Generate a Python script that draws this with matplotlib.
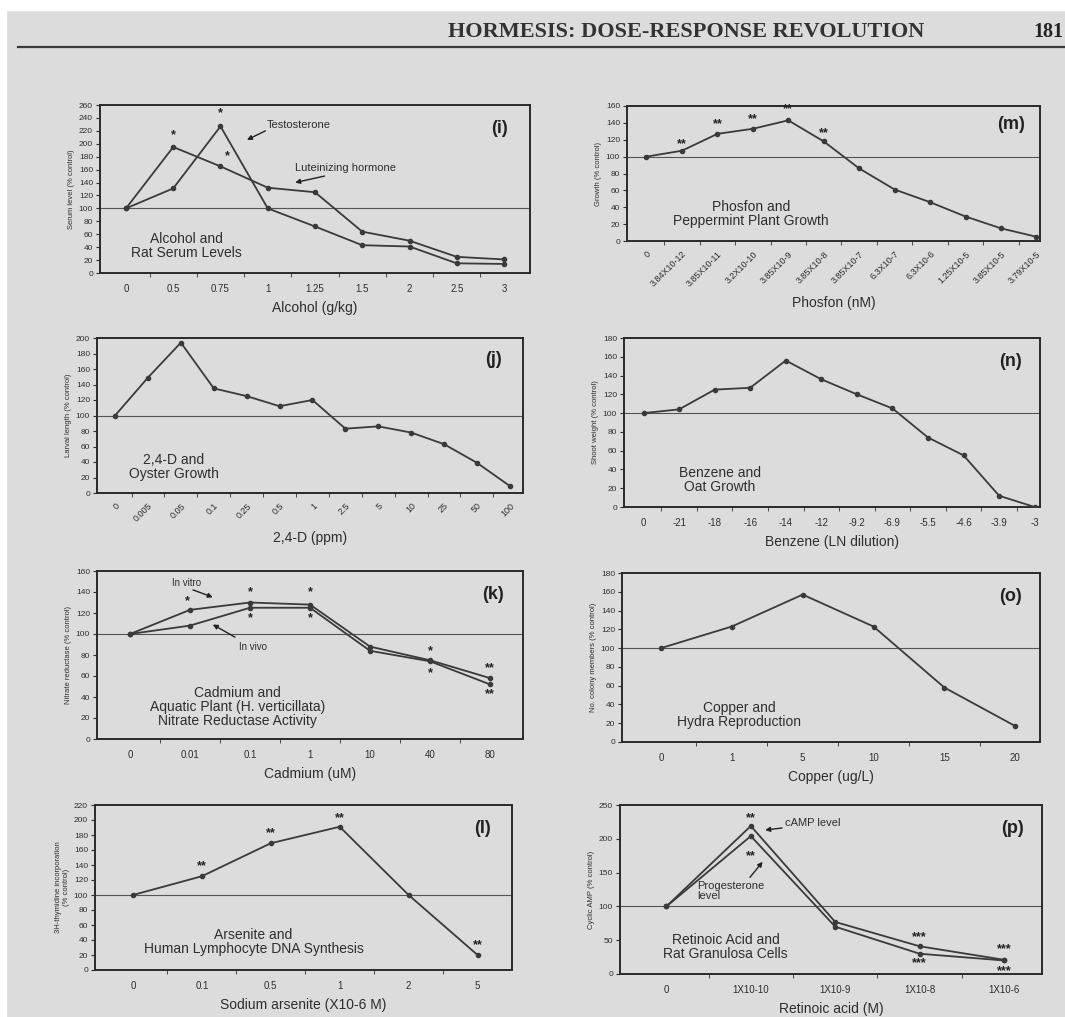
import matplotlib
matplotlib.use('Agg')
import matplotlib.pyplot as plt

plt.rcParams['font.family'] = ['Liberation Sans', 'DejaVu Sans']

W, H = 1065, 1017
PAPER = '#dcdcdc'
INK = '#2e2e2e'

# (i) Alcohol and rat serum levels
alcohol_doses = ['0', '0.5', '0.75', '1', '1.25', '1.5', '2', '2.5', '3']
testosterone = [100, 131, 227, 100, 72, 43, 41, 15, 14]
luteinizing = [100, 195, 165, 132, 125, 64, 50, 25, 21]

# (m) Phosfon and peppermint growth
phosfon_doses = ['0', '3.84X10-12', '3.85X10-11', '3.2X10-10', '3.85X10-9', '3.85X10-8',
                 '3.85X10-7', '6.3X10-7', '6.3X10-6', '1.25X10-5', '3.85X10-5', '3.79X10-5']
phosfon_growth = [100, 107, 127, 133, 143, 118, 86, 61, 46, 29, 15, 5]

# (j) 2,4-D and oyster growth
d24_doses = ['0', '0.005', '0.05', '0.1', '0.25', '0.5', '1', '2.5', '5', '10', '25', '50', '100']
oyster_length = [100, 149, 194, 135, 125, 112, 120, 83, 86, 78, 63, 39, 9]

# (n) Benzene and oat growth
benzene_doses = ['0', '-21', '-18', '-16', '-14', '-12', '-9.2', '-6.9', '-5.5', '-4.6', '-3.9', '-3']
oat_weight = [100, 104, 125, 127, 156, 136, 120, 105, 74, 55, 12, 0]

# (k) Cadmium and nitrate reductase
cadmium_doses = ['0', '0.01', '0.1', '1', '10', '40', '80']
in_vitro = [100, 123, 130, 128, 88, 75, 58]
in_vivo = [100, 108, 125, 125, 84, 74, 52]

# (o) Copper and hydra reproduction
copper_doses = ['0', '1', '5', '10', '15', '20']
hydra_members = [100, 123, 157, 123, 58, 17]

# (l) Arsenite and lymphocyte DNA synthesis
arsenite_doses = ['0', '0.1', '0.5', '1', '2', '5']
thymidine = [100, 125, 169, 191, 100, 20]

# (p) Retinoic acid and granulosa cells
retinoic_doses = ['0', '1X10-10', '1X10-9', '1X10-8', '1X10-6']
camp_level = [100, 219, 77, 41, 21]
progesterone_level = [100, 204, 70, 30, 20]

fig = plt.figure(figsize=(W / 100, H / 100), dpi=100)
fig.patch.set_facecolor(PAPER)


def px_axes(left, top, right, bottom):
    ax = fig.add_axes([left / W, 1 - bottom / H, (right - left) / W, (bottom - top) / H])
    ax.set_facecolor(PAPER)
    for s in ax.spines.values():
        s.set_color('#2a2a2a')
        s.set_linewidth(1.4)
    return ax


def setup(ax, cats, ymax, ystep, xlabel, ylabel, letter, note, note_xy,
          rot=0, pad_right=0.55):
    n = len(cats)
    ax.set_xlim(-0.55, n - 1 + pad_right)
    ax.set_ylim(0, ymax)
    ax.set_yticks(range(0, ymax + 1, ystep))
    ax.set_xticks(range(n))
    if rot:
        ax.set_xticklabels(cats, rotation=rot, ha='right', rotation_mode='anchor')
    else:
        ax.set_xticklabels(cats)
    ax.set_xticks([i + 0.5 for i in range(n - 1)], minor=True)
    ax.tick_params(axis='x', which='major', length=0, labelsize=7, colors=INK, pad=8)
    ax.tick_params(axis='x', which='minor', length=3, direction='out', color=INK)
    ax.tick_params(axis='y', length=3, labelsize=6, colors=INK, pad=2)
    ax.axhline(100, color='#555555', lw=0.8, zorder=1)
    ax.set_xlabel(xlabel, fontsize=10, color=INK, labelpad=5)
    ax.set_ylabel(ylabel, fontsize=5.5, color=INK, labelpad=3)
    ax.text(0.93, 0.86, letter, transform=ax.transAxes, fontsize=13, fontweight='bold',
            ha='center', va='center', color='#222222')
    ax.text(note_xy[0], note_xy[1], note, transform=ax.transAxes, fontsize=10,
            ha='center', va='center', color=INK, linespacing=1.0)


def series(ax, vals):
    ax.plot(range(len(vals)), vals, color='#3a3a3a', lw=1.3, marker='o', ms=3, zorder=3)


def stars(ax, pts, s):
    for x, y in pts:
        ax.text(x, y, s, ha='center', va='center', fontsize=9, fontweight='bold', color='#222222')


arrow = dict(arrowstyle='-|>', color='#222222', lw=1.0, mutation_scale=7,
             shrinkA=0, shrinkB=0)

# header
fig.patches.append(plt.Rectangle((0, 1 - 10 / H), 1, 10 / H, transform=fig.transFigure,
                                 color='white', zorder=0))
fig.patches.append(plt.Rectangle((0, 0), 6 / W, 1, transform=fig.transFigure,
                                 color='white', zorder=0))
fig.text(686 / W, 1 - 32 / H, 'HORMESIS: DOSE-RESPONSE REVOLUTION', ha='center', va='center',
         fontsize=16, family='Liberation Serif', fontweight='bold', color='#333333')
fig.text(1063 / W, 1 - 32 / H, '181', ha='right', va='center', fontsize=14.5,
         family='Liberation Serif', fontweight='bold', color='#222222')
fig.add_artist(plt.Line2D([18 / W, 1], [1 - 47 / H, 1 - 47 / H], color='#3a3a3a', lw=1.6))

# (i)
ax = px_axes(100, 105, 530, 273)
setup(ax, alcohol_doses, 260, 20, 'Alcohol (g/kg)', 'Serum level (% control)', '(i)',
      'Alcohol and\nRat Serum Levels', (0.2, 0.16))
series(ax, testosterone)
series(ax, luteinizing)
stars(ax, [(1, 213), (2, 247), (2.15, 181)], '*')
ax.text(2.98, 229, 'Testosterone', fontsize=8, color=INK, ha='left', va='center')
ax.annotate('', xy=(2.56, 206), xytext=(2.95, 220), arrowprops=arrow)
ax.text(3.58, 163, 'Luteinizing hormone', fontsize=8, color=INK, ha='left', va='center')
ax.annotate('', xy=(3.58, 140), xytext=(4.2, 150), arrowprops=arrow)

# (m)
ax = px_axes(627, 106, 1040, 241)
setup(ax, phosfon_doses, 160, 20, 'Phosfon (nM)', 'Growth (% control)', '(m)',
      'Phosfon and\nPeppermint Plant Growth', (0.3, 0.2), rot=45, pad_right=0.1)
ax.tick_params(axis='x', which='major', labelsize=6.5, pad=6)
series(ax, phosfon_growth)
stars(ax, [(1, 115), (2, 139), (3, 144), (4, 156), (5, 128)], '**')

# (j)
ax = px_axes(97, 338, 523, 493)
setup(ax, d24_doses, 200, 20, '2,4-D (ppm)', 'Larval length (% control)', '(j)',
      '2,4-D and\nOyster Growth', (0.18, 0.17), rot=45, pad_right=0.4)
ax.tick_params(axis='x', which='major', labelsize=6.5, pad=6)
series(ax, oyster_length)

# (n)
ax = px_axes(624, 338, 1040, 507)
setup(ax, benzene_doses, 180, 20, 'Benzene (LN dilution)', 'Shoot weight (% control)', '(n)',
      'Benzene and\nOat Growth', (0.23, 0.16), pad_right=0.15)
series(ax, oat_weight)

# (k)
ax = px_axes(97, 571, 523, 739)
setup(ax, cadmium_doses, 160, 20, 'Cadmium (uM)', 'Nitrate reductase (% control)', '(k)',
      'Cadmium and\nAquatic Plant (H. verticillata)\nNitrate Reductase Activity', (0.33, 0.19))
series(ax, in_vitro)
series(ax, in_vivo)
stars(ax, [(0.95, 131), (2, 140), (2, 115), (3, 140), (3, 115), (5, 84), (5, 63)], '*')
stars(ax, [(6, 67), (6, 43)], '**')
ax.text(0.95, 149, 'In vitro', fontsize=7, color=INK, ha='center', va='center')
ax.annotate('', xy=(1.38, 135), xytext=(1.05, 142), arrowprops=arrow)
ax.text(2.05, 88, 'In vivo', fontsize=7, color=INK, ha='center', va='center')
ax.annotate('', xy=(1.38, 109), xytext=(1.75, 97), arrowprops=arrow)

# (o)
ax = px_axes(622, 573, 1040, 742)
setup(ax, copper_doses, 180, 20, 'Copper (ug/L)', 'No. colony members (% control)', '(o)',
      'Copper and\nHydra Reproduction', (0.28, 0.16), pad_right=0.35)
series(ax, hydra_members)

# (l)
ax = px_axes(95, 805, 512, 970)
setup(ax, arsenite_doses, 220, 20, 'Sodium arsenite (X10-6 M)',
      '3H-thymidine incorporation\n(% control)', '(l)',
      'Arsenite and\nHuman Lymphocyte DNA Synthesis', (0.38, 0.17), pad_right=0.5)
series(ax, thymidine)
stars(ax, [(1, 139), (2, 182), (3, 203), (5, 33)], '**')

# (p)
ax = px_axes(620, 805, 1042, 974)
setup(ax, retinoic_doses, 250, 50, 'Retinoic acid (M)', 'Cyclic AMP (% control)', '(p)',
      'Retinoic Acid and\nRat Granulosa Cells', (0.25, 0.16), pad_right=0.45)
series(ax, camp_level)
series(ax, progesterone_level)
stars(ax, [(1, 230), (1, 174)], '**')
stars(ax, [(3, 55), (3, 16), (4, 36), (4, 4)], '***')
ax.text(1.4, 224, 'cAMP level', fontsize=8, color=INK, ha='left', va='center')
ax.annotate('', xy=(1.17, 213), xytext=(1.37, 216), arrowprops=arrow)
ax.text(0.36, 123, 'Progesterone\nlevel', fontsize=8, color=INK, ha='left', va='center',
        linespacing=1.0)
ax.annotate('', xy=(1.14, 166), xytext=(0.99, 143), arrowprops=arrow)

fig.savefig('out.png', dpi=100, facecolor=PAPER)
